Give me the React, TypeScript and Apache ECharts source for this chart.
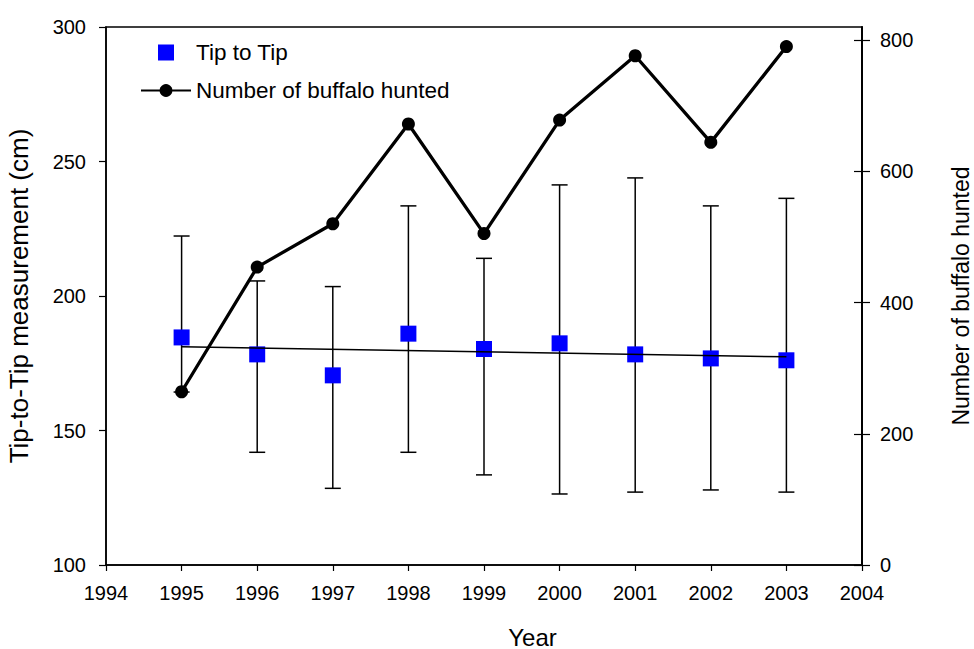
import React, { useEffect, useRef } from 'react';
import * as echarts from 'echarts';

const years = [1995, 1996, 1997, 1998, 1999, 2000, 2001, 2002, 2003];
const tipToTip = [184.6, 178.3, 170.5, 186.0, 180.3, 182.4, 178.3, 176.8, 176.1];
const errorHigh = [222.3, 205.6, 203.5, 233.5, 214.0, 241.3, 243.9, 233.5, 236.3];
const errorLow = [164.3, 141.9, 128.5, 141.9, 133.5, 126.4, 127.1, 127.9, 127.1];
const buffaloHunted = [264, 454, 520, 672, 505, 678, 776, 644, 790];
const trendYears = [1995, 2003];
const trendValues = [181.1, 177.4];

const FONT = '"Liberation Sans", Arial, sans-serif';

export default function App() {
  const ref = useRef<HTMLDivElement>(null);

  useEffect(() => {
    if (!ref.current) return;
    const chart = echarts.init(ref.current, null, { renderer: 'svg' });

    const yearLabel = (v: number) => String(v);

    const option: any = {
      animation: false,
      backgroundColor: '#fff',
      textStyle: { fontFamily: FONT, color: '#000' },
      grid: [
        {
          left: 106, right: 112, top: 27, bottom: 84,
          show: true, borderColor: '#000', borderWidth: 1.5, backgroundColor: 'transparent',
          outerBoundsMode: 'none',
        },
        {
          left: 106, right: 112, top: 40, bottom: 84, show: false,
          outerBoundsMode: 'none',
        },
      ],
      legend: {
        orient: 'vertical',
        left: 140,
        top: 41,
        padding: 0,
        itemWidth: 50,
        itemHeight: 16,
        itemGap: 15,
        textStyle: { fontSize: 22.5, color: '#000', fontFamily: FONT },
        data: [
          { name: 'Tip to Tip', icon: 'path://M0,8L0,8M17,0H33V16H17ZM50,8L50,8' },
          { name: 'Number of buffalo hunted' },
        ],
        selectedMode: false,
      },
      xAxis: [
        {
          type: 'value', gridIndex: 0, min: 1994, max: 2004, interval: 1,
          name: 'Year', nameLocation: 'middle', nameGap: 60,
          nameTextStyle: { fontSize: 24, color: '#000', fontFamily: FONT, padding: [0, 0, 0, 97] },
          axisLine: { show: true, lineStyle: { color: '#000', width: 1.5 } },
          axisTick: { show: true, inside: false, length: 6, lineStyle: { color: '#000', width: 1.2 } },
          axisLabel: { fontSize: 20, color: '#000', margin: 18, formatter: yearLabel, fontFamily: FONT },
          splitLine: { show: false },
        },
        {
          type: 'value', gridIndex: 1, min: 1994, max: 2004, interval: 1, show: false,
          splitLine: { show: false },
        },
      ],
      yAxis: [
        {
          type: 'value', gridIndex: 0, position: 'left', min: 100, max: 300, interval: 50,
          name: 'Tip-to-Tip measurement (cm)', nameLocation: 'middle', nameGap: 74, nameRotate: 90,
          nameTextStyle: { fontSize: 26, color: '#000', fontFamily: FONT },
          axisLine: { show: true, lineStyle: { color: '#000', width: 1.5 } },
          axisTick: { show: true, inside: false, length: 7, lineStyle: { color: '#000', width: 1.2 } },
          axisLabel: { fontSize: 20, color: '#000', margin: 20, fontFamily: FONT },
          splitLine: { show: false },
        },
        {
          type: 'value', gridIndex: 1, position: 'right', min: 0, max: 800, interval: 200,
          axisLine: { show: false },
          axisTick: { show: true, inside: false, length: 8, lineStyle: { color: '#000', width: 1.2 } },
          axisLabel: { fontSize: 20, color: '#000', margin: 18, fontFamily: FONT },
          splitLine: { show: false },
        },
        {
          type: 'value', gridIndex: 1, position: 'right', min: 0, max: 800, interval: 200,
          axisLine: { show: false },
          axisTick: { show: true, inside: true, length: 8, lineStyle: { color: '#000', width: 1.2 } },
          axisLabel: { show: false },
          splitLine: { show: false },
        },
        {
          type: 'value', gridIndex: 0, position: 'right', min: 100, max: 300, interval: 50,
          name: 'Number of buffalo hunted', nameLocation: 'middle', nameGap: 87, nameRotate: 90,
          nameTextStyle: { fontSize: 23, color: '#000', fontFamily: FONT },
          axisLine: { show: true, lineStyle: { color: '#000', width: 2 } },
          axisTick: { show: false },
          axisLabel: { show: false },
          splitLine: { show: false },
        },
      ],
      series: [
        {
          type: 'custom',
          name: 'errors',
          xAxisIndex: 0,
          yAxisIndex: 0,
          z: 2,
          encode: { x: 0, y: [1, 2] },
          data: years.map((y, i) => [y, errorLow[i], errorHigh[i]]),
          renderItem: (params: any, api: any) => {
            const x = api.value(0);
            const lo = api.coord([x, api.value(1)]);
            const hi = api.coord([x, api.value(2)]);
            const hw = 8;
            const style = { stroke: '#000', lineWidth: 1.5 };
            return {
              type: 'group',
              children: [
                { type: 'line', shape: { x1: lo[0], y1: lo[1], x2: hi[0], y2: hi[1] }, style },
                { type: 'line', shape: { x1: lo[0] - hw, y1: lo[1], x2: lo[0] + hw, y2: lo[1] }, style },
                { type: 'line', shape: { x1: hi[0] - hw, y1: hi[1], x2: hi[0] + hw, y2: hi[1] }, style },
              ],
            };
          },
        },
        {
          type: 'scatter',
          name: 'Tip to Tip',
          xAxisIndex: 0,
          yAxisIndex: 0,
          z: 3,
          symbol: 'rect',
          symbolSize: 16,
          itemStyle: { color: '#0000FF', opacity: 1 },
          data: years.map((y, i) => [y, tipToTip[i]]),
        },
        {
          type: 'line',
          name: 'trend',
          xAxisIndex: 0,
          yAxisIndex: 0,
          z: 4,
          symbol: 'none',
          lineStyle: { color: '#000', width: 1.5 },
          data: trendYears.map((y, i) => [y, trendValues[i]]),
        },
        {
          type: 'line',
          name: 'Number of buffalo hunted',
          xAxisIndex: 1,
          yAxisIndex: 1,
          z: 5,
          symbol: 'circle',
          symbolSize: 13,
          itemStyle: { color: '#000' },
          lineStyle: { color: '#000', width: 3.3 },
          data: years.map((y, i) => [y, buffaloHunted[i]]),
        },
      ],
    };

    chart.setOption(option);
    return () => chart.dispose();
  }, []);

  return (
    <div
      ref={ref}
      style={{ width: 974, height: 649, position: 'absolute', left: 0, top: 0 }}
    />
  );
}
